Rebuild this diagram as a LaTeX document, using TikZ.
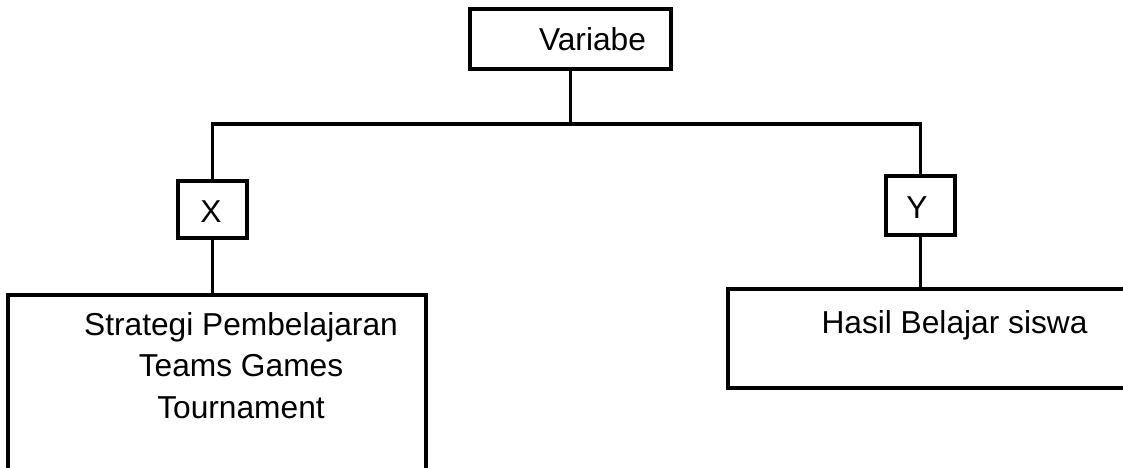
\documentclass[tikz,border=0pt]{standalone}
\usepackage{fontspec}
\setmainfont{Liberation Sans}
\begin{document}
\begin{tikzpicture}[x=1pt,y=-1pt,
  conn/.style={line width=3.2pt},
  boxframe/.style={draw,line width=3.2pt,inner sep=0pt},
  lbl/.style={font=\fontsize{31.7}{41.5}\selectfont,inner sep=0pt,anchor=base}]
\useasboundingbox (0,0) rectangle (1123,467);
\clip (0,0) rectangle (1123,467);
% top box
\node[boxframe,minimum width=201pt,minimum height=60pt] (var) at (570.5,39) {};
\node[lbl] (vart) at (592.5,50) {Variabe};
% X and Y boxes
\node[boxframe,minimum width=69pt,minimum height=57pt] (xb) at (212.5,209.5) {};
\node[lbl] (xt) at (211,222) {X};
\node[boxframe,minimum width=69pt,minimum height=59pt] (yb) at (920.5,205.5) {};
\node[lbl] (yt) at (917,218) {Y};
% bottom boxes (open)
\coordinate (bar) at (0,124);
\coordinate (ltop) at (0,295);
\coordinate (rtop) at (0,289);
\draw[conn] (8,480) -- (8,295) -- (426,295) -- (426,480);
\draw[conn] (1135,289) -- (728,289) -- (728,388) -- (1135,388);
\node[lbl,align=center,anchor=north] (lt) at (241,312) {Strategi Pembelajaran\\Teams Games\\Tournament};
\node[lbl] (rt) at (954.5,333) {Hasil Belajar siswa};
% connectors
\draw[conn] (var.south) -- (var.south |- bar);
\draw[conn] (xb.north) -- (xb.north |- bar) -- (yb.north |- bar) -- (yb.north);
\draw[conn] (xb.south) -- (xb.south |- ltop);
\draw[conn] (yb.south) -- (yb.south |- rtop);
\end{tikzpicture}
\end{document}
